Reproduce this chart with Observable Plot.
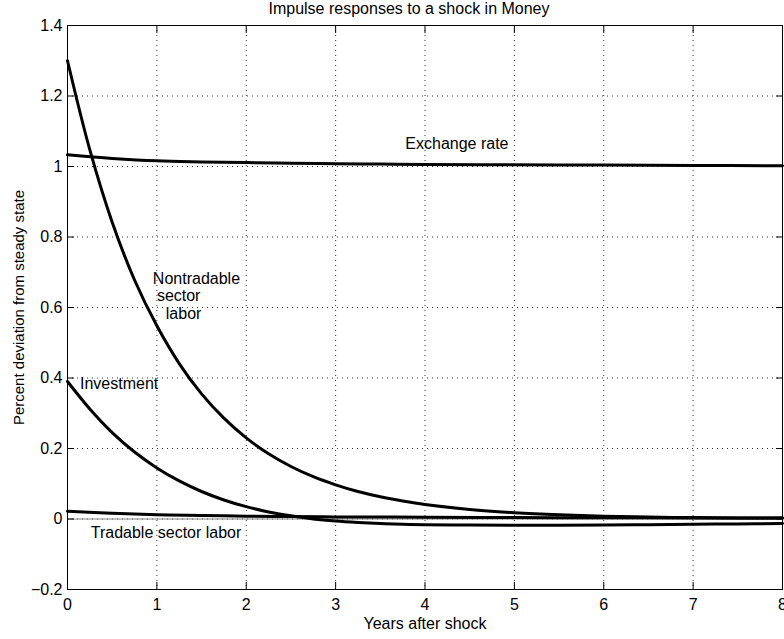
<!DOCTYPE html>
<html>
<head>
<meta charset="utf-8">
<script src="https://cdn.jsdelivr.net/npm/d3@7"></script>
<script src="https://cdn.jsdelivr.net/npm/@observablehq/plot@0.6"></script>
<style>
  body { margin: 0; background: #fff; }
</style>
</head>
<body>
<div id="chart"></div>
<script>
// Years after the money shock (quarterly early on, then half-yearly)
const tFine = [0, 0.25, 0.5, 0.75, 1, 1.25, 1.5, 1.75, 2, 2.25, 2.5, 2.75, 3, 3.25, 3.5, 3.75, 4,
               4.5, 5, 5.5, 6, 6.5, 7, 7.5, 8];
const nontradableLabor = [1.30, 1.047, 0.842, 0.678, 0.548, 0.441, 0.355, 0.286, 0.230, 0.185, 0.149, 0.120, 0.097, 0.078, 0.063, 0.051, 0.041,
                          0.027, 0.018, 0.012, 0.008, 0.0055, 0.004, 0.003, 0.0025];
const investment = [0.39, 0.312, 0.245, 0.19, 0.145, 0.108, 0.078, 0.054, 0.035, 0.020, 0.009, 0.0, -0.006, -0.010, -0.013, -0.015, -0.016,
                    -0.017, -0.0175, -0.0175, -0.017, -0.016, -0.015, -0.014, -0.013];

const tCoarse = [0, 0.5, 1, 1.5, 2, 2.5, 3, 3.5, 4, 5, 6, 7, 8];
const exchangeRate = [1.033, 1.023, 1.016, 1.013, 1.011, 1.0095, 1.008, 1.007, 1.006, 1.005, 1.004, 1.003, 1.002];
const tradableLabor = [0.022, 0.016, 0.012, 0.010, 0.008, 0.007, 0.006, 0.0055, 0.005, 0.004, 0.0035, 0.003, 0.003];

// Axis ticks and their labels
const xTicks = [0, 1, 2, 3, 4, 5, 6, 7, 8];
const xTickLabels = ["0", "1", "2", "3", "4", "5", "6", "7", "8"];
const yTicks = [-0.2, 0, 0.2, 0.4, 0.6, 0.8, 1, 1.2, 1.4];
const yTickLabels = ["\u22120.2", "0", "0.2", "0.4", "0.6", "0.8", "1", "1.2", "1.4"];

// In-plot annotations (anchored at their left edge, in data units)
const labelText = ["Exchange rate", "Nontradable", "sector", "labor", "Investment", "Tradable sector labor"];
const labelYear = [3.78, 0.955, 1.0, 1.1, 0.14, 0.26];
const labelValue = [1.063, 0.681, 0.632, 0.582, 0.383, -0.040];

const titleText = "Impulse responses to a shock in Money";
const xLabel = "Years after shock";
const yLabel = "Percent deviation from steady state";

const series = (t, v) => t.map((x, i) => ({t: x, v: v[i]}));
const curves = [
  series(tCoarse, exchangeRate),
  series(tFine, nontradableLabor),
  series(tFine, investment),
  series(tCoarse, tradableLabor)
];
const labels = labelText.map((s, i) => ({s, t: labelYear[i], v: labelValue[i]}));

const fmt = (ticks, names) => (d) => names[ticks.findIndex((k) => Math.abs(k - d) < 1e-9)];

const chart = Plot.plot({
  width: 784,
  height: 639,
  marginLeft: 67,
  marginRight: 2,
  marginTop: 25,
  marginBottom: 50,
  style: {fontFamily: "'Liberation Sans', Arial, Helvetica, sans-serif", fontSize: "16px", background: "#fff", color: "#000"},
  x: {domain: [0, 8]},
  y: {domain: [-0.2, 1.4]},
  marks: [
    // dotted grid
    Plot.gridX(xTicks, {stroke: "#333", strokeOpacity: 1, strokeDasharray: "1,4"}),
    Plot.gridY(yTicks, {stroke: "#333", strokeOpacity: 1, strokeDasharray: "1,4"}),
    Plot.ruleY([0], {stroke: "#888", strokeWidth: 1}),
    // tick labels
    Plot.axisX(xTicks, {anchor: "bottom", tickSize: 0, tickPadding: 9, tickFormat: fmt(xTicks, xTickLabels), label: null, fontSize: 16}),
    Plot.axisY(yTicks, {anchor: "left", tickSize: 0, tickPadding: 5, tickFormat: fmt(yTicks, yTickLabels), label: null, fontSize: 16}),
    // inward ticks on all four sides
    Plot.axisX(xTicks, {anchor: "bottom", tickSize: -7, tickFormat: () => "", label: null}),
    Plot.axisX(xTicks, {anchor: "top", tickSize: -7, tickFormat: () => "", label: null}),
    Plot.axisY(yTicks, {anchor: "left", tickSize: -7, tickFormat: () => "", label: null}),
    Plot.axisY(yTicks, {anchor: "right", tickSize: -7, tickFormat: () => "", label: null}),
    // response curves
    ...curves.map((c) => Plot.line(c, {x: "t", y: "v", stroke: "#000", strokeWidth: 3, curve: "catmull-rom"})),
    Plot.frame({stroke: "#000", strokeWidth: 1}),
    // annotations
    Plot.text(labels, {x: "t", y: "v", text: "s", textAnchor: "start", lineAnchor: "middle", fill: "#000", fontSize: 16}),
    // title and axis titles
    Plot.text([titleText], {frameAnchor: "top", textAnchor: "middle", dx: -16, dy: -11.5, lineAnchor: "bottom", fill: "#000", fontSize: 16}),
    Plot.text([xLabel], {frameAnchor: "bottom", textAnchor: "middle", dy: 39, lineAnchor: "bottom", fill: "#000", fontSize: 16}),
    Plot.text([yLabel], {frameAnchor: "left", textAnchor: "middle", dx: -44, rotate: -90, lineAnchor: "bottom", fill: "#000", fontSize: 15})
  ]
});

document.getElementById("chart").appendChild(chart);
</script>
</body>
</html>
